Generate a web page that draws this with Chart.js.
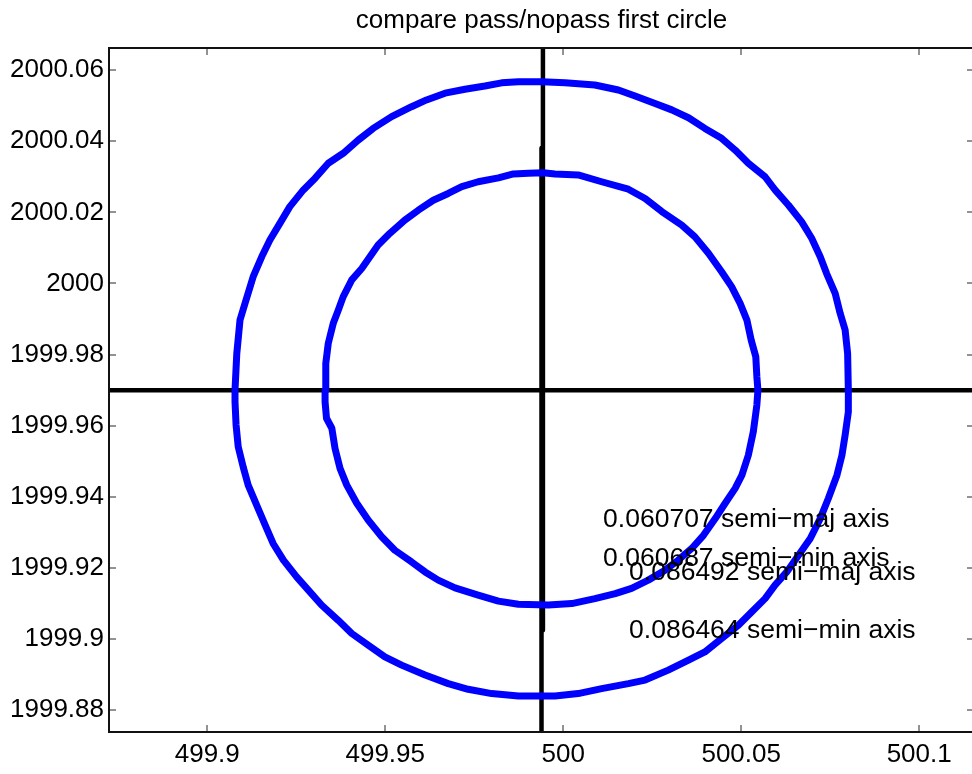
<!DOCTYPE html>
<html>
<head>
<meta charset="utf-8">
<title>compare pass/nopass first circle</title>
<script src="https://cdn.jsdelivr.net/npm/chart.js@4.4.1/dist/chart.umd.min.js"></script>
<style>
  html, body { margin: 0; padding: 0; background: #fff; overflow: hidden; }
  #contenedor { width: 974px; height: 774px; }
  canvas { display: block; }
</style>
</head>
<body>
<div id="contenedor">
  <canvas id="grafico" width="974" height="774"></canvas>
</div>
<script>
// ejes
const xTicks = [499.9, 499.95, 500, 500.05, 500.1]
const xTickLabels = ['499.9', '499.95', '500', '500.05', '500.1']
const yTicks = [1999.88, 1999.9, 1999.92, 1999.94, 1999.96, 1999.98, 2000, 2000.02, 2000.04, 2000.06]
const yTickLabels = ['1999.88', '1999.9', '1999.92', '1999.94', '1999.96', '1999.98', '2000', '2000.02', '2000.04', '2000.06']

// circulo exterior (nopass)
const outerX = [
  499.9078, 499.9083, 499.9092, 499.9106, 499.9129, 499.9153, 499.9176, 499.9204, 499.9232, 499.9270,
  499.9303, 499.9340, 499.9382, 499.9424, 499.9466, 499.9518, 499.9574, 499.9616, 499.9668, 499.9724,
  499.9780, 499.9827, 499.9874, 499.9940, 500.0005, 500.0089, 500.0155, 500.0202, 500.0258, 500.0305,
  500.0352, 500.0398, 500.0445, 500.0483, 500.0520, 500.0567, 500.0595, 500.0633, 500.0670, 500.0698,
  500.0722, 500.0740, 500.0764, 500.0778, 500.0792, 500.0799, 500.0801, 500.0801, 500.0792, 500.0783,
  500.0769, 500.0745, 500.0722, 500.0694, 500.0661, 500.0628, 500.0595, 500.0567, 500.0530, 500.0492,
  500.0445, 500.0398, 500.0352, 500.0295, 500.0230, 500.0183, 500.0108, 500.0042, 499.9977, 499.9874,
  499.9799, 499.9733, 499.9677, 499.9612, 499.9546, 499.9499, 499.9452, 499.9406, 499.9368, 499.9321,
  499.9284, 499.9251, 499.9214, 499.9185, 499.9167, 499.9143, 499.9115, 499.9101, 499.9087, 499.9081,
  499.9078
]
const outerY = [
  1999.9700, 1999.9803, 1999.9897, 1999.9944, 2000.0019, 2000.0075, 2000.0122, 2000.0169, 2000.0216, 2000.0263,
  2000.0296, 2000.0338, 2000.0366, 2000.0403, 2000.0436, 2000.0469, 2000.0497, 2000.0516, 2000.0535, 2000.0546,
  2000.0555, 2000.0564, 2000.0567, 2000.0567, 2000.0564, 2000.0558, 2000.0544, 2000.0527, 2000.0506, 2000.0488,
  2000.0466, 2000.0436, 2000.0408, 2000.0375, 2000.0338, 2000.0300, 2000.0263, 2000.0220, 2000.0173, 2000.0127,
  2000.0075, 2000.0028, 1999.9972, 1999.9916, 1999.9869, 1999.9803, 1999.9700, 1999.9639, 1999.9574, 1999.9517,
  1999.9461, 1999.9396, 1999.9339, 1999.9283, 1999.9236, 1999.9189, 1999.9152, 1999.9114, 1999.9077, 1999.9039,
  1999.9002, 1999.8964, 1999.8941, 1999.8913, 1999.8885, 1999.8875, 1999.8861, 1999.8847, 1999.8840, 1999.8840,
  1999.8847, 1999.8859, 1999.8875, 1999.8899, 1999.8927, 1999.8950, 1999.8983, 1999.9016, 1999.9053, 1999.9096,
  1999.9138, 1999.9175, 1999.9222, 1999.9269, 1999.9311, 1999.9367, 1999.9433, 1999.9484, 1999.9541, 1999.9602,
  1999.9667
]

// circulo interior (pass)
const innerX = [
  499.9331, 499.9333, 499.9340, 499.9354, 499.9368, 499.9382, 499.9406, 499.9434, 499.9457, 499.9480,
  499.9513, 499.9555, 499.9593, 499.9635, 499.9677, 499.9715, 499.9761, 499.9818, 499.9860, 499.9902,
  499.9944, 499.9977, 500.0042, 500.0108, 500.0183, 500.0230, 500.0277, 500.0333, 500.0370, 500.0408,
  500.0445, 500.0473, 500.0497, 500.0516, 500.0528, 500.0541, 500.0544, 500.0547, 500.0544, 500.0534,
  500.0520, 500.0502, 500.0483, 500.0455, 500.0427, 500.0394, 500.0361, 500.0323, 500.0286, 500.0239,
  500.0192, 500.0146, 500.0089, 500.0024, 499.9958, 499.9874, 499.9818, 499.9761, 499.9696, 499.9649,
  499.9612, 499.9574, 499.9527, 499.9490, 499.9452, 499.9420, 499.9392, 499.9373, 499.9359, 499.9350,
  499.9335, 499.9331
]
const innerY = [
  1999.9700, 1999.9775, 1999.9832, 1999.9888, 1999.9925, 1999.9963, 2000.0010, 2000.0042, 2000.0075, 2000.0108,
  2000.0141, 2000.0178, 2000.0206, 2000.0234, 2000.0253, 2000.0272, 2000.0286, 2000.0297, 2000.0308, 2000.0310,
  2000.0311, 2000.0308, 2000.0305, 2000.0286, 2000.0265, 2000.0239, 2000.0202, 2000.0164, 2000.0131, 2000.0085,
  2000.0033, 1999.9991, 1999.9944, 1999.9897, 1999.9841, 1999.9794, 1999.9738, 1999.9700, 1999.9658, 1999.9583,
  1999.9517, 1999.9461, 1999.9424, 1999.9382, 1999.9339, 1999.9292, 1999.9255, 1999.9222, 1999.9194, 1999.9166,
  1999.9143, 1999.9128, 1999.9114, 1999.9100, 1999.9096, 1999.9098, 1999.9107, 1999.9124, 1999.9144, 1999.9166,
  1999.9189, 1999.9217, 1999.9250, 1999.9288, 1999.9335, 1999.9382, 1999.9433, 1999.9480, 1999.9536, 1999.9593,
  1999.9621, 1999.9667
]

// cruz del centro
const hLineX = [499.8, 500.2]
const hLineY = [1999.97, 1999.97]
const vLineAX = [499.9939, 499.9939]
const vLineAY = [2000.0381, 1999.8]
const vLineBX = [499.9943, 499.9943]
const vLineBY = [2000.1, 1999.9025]

// textos
const etiquetas = ['0.060707 semi\u2212maj axis', '0.060687 semi\u2212min axis', '0.086492 semi\u2212maj axis', '0.086464 semi\u2212min axis']
const etiquetasX = [500.0112, 500.0112, 500.0185, 500.0185]
const etiquetasY = [1999.9337, 1999.9225, 1999.9186, 1999.9025]

const fuente = '"Liberation Sans", Arial, Helvetica, sans-serif'

function puntos(xs, ys, cerrar) {
  const p = xs.map((x, i) => ({ x, y: ys[i] }))
  if (cerrar) p.push({ x: xs[0], y: ys[0] })
  return p
}

const cajaEjes = {
  id: 'cajaEjes',
  afterDraw(chart) {
    const { ctx, chartArea: a, scales } = chart
    ctx.save()
    // ticks hacia adentro, en los cuatro lados
    ctx.strokeStyle = '#262626'
    ctx.lineWidth = 1
    ctx.beginPath()
    xTicks.forEach(v => {
      const px = Math.round(scales.x.getPixelForValue(v))
      ctx.moveTo(px, a.bottom); ctx.lineTo(px, a.bottom - 7)
      ctx.moveTo(px, a.top); ctx.lineTo(px, a.top + 7)
    })
    yTicks.forEach(v => {
      const py = Math.round(scales.y.getPixelForValue(v))
      ctx.moveTo(a.left, py); ctx.lineTo(a.left + 7, py)
      ctx.moveTo(a.right, py); ctx.lineTo(a.right - 7, py)
    })
    ctx.stroke()
    ctx.strokeStyle = '#111'
    ctx.lineWidth = 2
    ctx.strokeRect(a.left, a.top, a.right - a.left, a.bottom - a.top)
    ctx.restore()
  }
}

const textos = {
  id: 'textos',
  afterDatasetsDraw(chart) {
    const { ctx, scales } = chart
    ctx.save()
    ctx.font = '26.5px ' + fuente
    ctx.fillStyle = '#000'
    ctx.textAlign = 'left'
    ctx.textBaseline = 'middle'
    etiquetas.forEach((t, i) => {
      ctx.fillText(t, scales.x.getPixelForValue(etiquetasX[i]), scales.y.getPixelForValue(etiquetasY[i]))
    })
    ctx.restore()
  }
}

Chart.defaults.font.family = fuente
Chart.defaults.color = '#000'

const linea = (data, color, ancho) => ({
  data,
  showLine: true,
  borderColor: color,
  backgroundColor: color,
  borderWidth: ancho,
  pointRadius: 0,
  tension: 0,
  fill: false,
  borderJoinStyle: 'round',
  borderCapStyle: 'round'
})

new Chart(document.getElementById('grafico'), {
  type: 'scatter',
  data: {
    datasets: [
      linea(puntos(outerX, outerY, true), '#0000ff', 7),
      linea(puntos(innerX, innerY, true), '#0000ff', 7),
      linea(puntos(hLineX, hLineY), '#000', 4.5),
      linea(puntos(vLineAX, vLineAY), '#000', 4.5),
      linea(puntos(vLineBX, vLineBY), '#000', 4.5)
    ]
  },
  options: {
    responsive: false,
    animation: false,
    devicePixelRatio: 1,
    layout: { padding: 0 },
    plugins: {
      legend: { display: false },
      tooltip: { enabled: false },
      title: {
        display: true,
        fullSize: false,
        text: 'compare pass/nopass first circle',
        color: '#000',
        font: { size: 26, weight: 'normal', lineHeight: 1.2 },
        padding: { top: 5, bottom: 11.8 }
      }
    },
    scales: {
      x: {
        type: 'linear',
        min: 499.8724,
        max: 500.1154,
        grid: { display: false, drawTicks: false },
        border: { display: false },
        ticks: {
          padding: 7,
          font: { size: 26 },
          color: '#000',
          maxRotation: 0,
          callback: (v, i) => xTickLabels[i]
        },
        afterBuildTicks: s => { s.ticks = xTicks.map(value => ({ value })) },
        afterFit: s => { s.height = 42; s.paddingLeft = 0; s.paddingRight = 0 }
      },
      y: {
        type: 'linear',
        min: 1999.8739,
        max: 2000.0662,
        grid: { display: false, drawTicks: false },
        border: { display: false },
        ticks: {
          padding: 5,
          font: { size: 26 },
          color: '#000',
          callback: (v, i) => yTickLabels[i]
        },
        afterBuildTicks: s => { s.ticks = yTicks.map(value => ({ value })) },
        afterFit: s => { s.width = 109; s.paddingTop = 0; s.paddingBottom = 0 }
      }
    }
  },
  plugins: [textos, cajaEjes]
})
</script>
</body>
</html>
